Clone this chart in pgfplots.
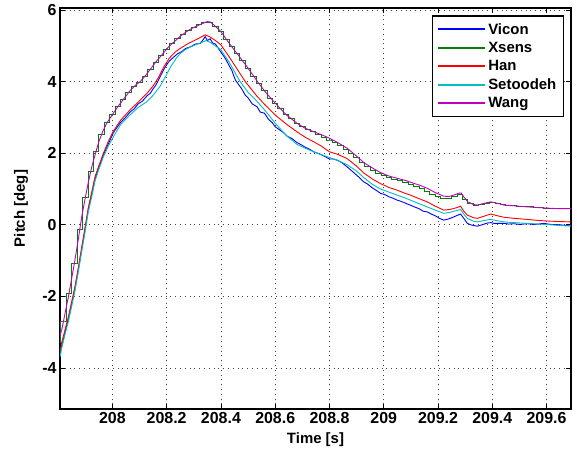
\documentclass[border=0pt]{standalone}
\usepackage{fontspec}
\setmainfont{Liberation Sans}
\usepackage{pgfplots}
\pgfplotsset{compat=1.18}
\definecolor{vicon}{rgb}{0,0,1}
\definecolor{xsens}{rgb}{0,0.5,0}
\definecolor{han}{rgb}{1,0,0}
\definecolor{seto}{rgb}{0,0.75,0.75}
\definecolor{wang}{rgb}{0.75,0,0.75}
\begin{document}
\begin{tikzpicture}
\useasboundingbox (-60bp,-45bp) rectangle (517bp,409bp);
\begin{axis}[
  at={(0,0)}, anchor=south west,
  width=511bp, height=401bp, scale only axis,
  xmin=207.807, xmax=209.69, ymin=-5.15, ymax=6.06,
  xtick={208,208.2,208.4,208.6,208.8,209,209.2,209.4,209.6},
  xticklabels={208,208.2,208.4,208.6,208.8,209,209.2,209.4,209.6},
  ytick={-4,-2,0,2,4,6},
  yticklabels={-4,-2,0,2,4,6},
  scaled x ticks=false, scaled y ticks=false,
  tick align=inside,
  major tick length=5bp,
  tick style={black, line width=0.6bp},
  axis line style={black, line width=1.3bp},
  grid=major,
  major grid style={black!75, dash pattern=on 0.8bp off 4bp, line width=0.6bp},
  tick label style={font=\fontsize{16}{18}\selectfont\bfseries},
  label style={font=\fontsize{15}{17}\selectfont\bfseries},
  xlabel={Time [s]}, ylabel={Pitch [deg]},
  xlabel style={at={(axis description cs:0.5,-0.077)}, anchor=center},
  ylabel style={at={(axis description cs:-0.076,0.5)}, anchor=center, rotate=0},
  legend style={at={(axis description cs:0.9865,0.9825)}, anchor=north east,
    draw=black, line width=1.5bp, fill=white,
    font=\fontsize{15}{17}\selectfont\bfseries,
    row sep=3.5bp, inner xsep=5bp, inner ysep=6bp,
    nodes={inner xsep=2bp, inner ysep=1.5bp}},
  legend cell align=left,
  legend image code/.code={\draw[#1, line width=2bp] (0bp,0bp) -- (47bp,0bp);},
]
% Vicon
\addplot[vicon, line width=0.9bp] coordinates {
(207.807,-3.65) (207.813,-3.40) (207.838,-2.62) (207.862,-1.80) (207.887,-0.68)
(207.911,0.42) (207.936,1.28) (207.967,1.95) (208.004,2.58) (208.015,2.70)
(208.030,2.86) (208.045,2.97) (208.065,3.15) (208.080,3.24) (208.095,3.38)
(208.110,3.45) (208.127,3.60) (208.140,3.68) (208.150,3.80) (208.160,3.90)
(208.170,4.05) (208.180,4.20) (208.190,4.35) (208.200,4.47) (208.210,4.58)
(208.225,4.68) (208.240,4.78) (208.255,4.84) (208.270,4.93) (208.290,4.98)
(208.305,5.05) (208.324,5.07) (208.335,5.18) (208.342,5.26) (208.350,5.15)
(208.360,5.20) (208.370,5.08) (208.380,5.05) (208.395,4.88) (208.410,4.72)
(208.420,4.60) (208.430,4.45) (208.440,4.32) (208.453,4.05) (208.465,3.92)
(208.475,3.82) (208.490,3.62) (208.500,3.55) (208.515,3.38) (208.533,3.30)
(208.545,3.15) (208.560,3.12) (208.575,2.95) (208.590,2.85) (208.600,2.74)
(208.615,2.66) (208.630,2.58) (208.645,2.47) (208.660,2.42) (208.680,2.30)
(208.695,2.24) (208.710,2.17) (208.725,2.12) (208.742,2.04) (208.756,2.00)
(208.770,1.96) (208.785,1.90) (208.800,1.84) (208.815,1.84) (208.830,1.80)
(208.845,1.74) (208.865,1.62) (208.880,1.52) (208.895,1.42) (208.910,1.32)
(208.926,1.20) (208.940,1.14) (208.960,1.02) (208.975,0.95) (208.988,0.88)
(209.005,0.84) (209.020,0.78) (209.035,0.74) (209.049,0.69) (209.062,0.66)
(209.075,0.62) (209.087,0.58) (209.098,0.55) (209.113,0.50) (209.130,0.45)
(209.145,0.38) (209.160,0.36) (209.175,0.30) (209.190,0.25) (209.205,0.18)
(209.221,0.13) (209.233,0.15) (209.245,0.18) (209.258,0.22) (209.270,0.26)
(209.283,0.30) (209.295,0.18) (209.308,0.04) (209.320,0.00) (209.330,-0.02)
(209.345,-0.04) (209.358,-0.01) (209.370,0.02) (209.382,0.05) (209.394,0.06)
(209.407,0.04) (209.420,0.04) (209.443,0.04) (209.460,0.02) (209.480,0.03)
(209.500,0.01) (209.529,0.03) (209.550,0.01) (209.570,0.02) (209.590,0.04)
(209.615,0.01) (209.650,0.00) (209.670,-0.02) (209.690,0.00)
};
\addlegendentry{Vicon}
% Xsens (zero-order hold)
\addplot[xsens, line width=0.9bp, const plot mark mid] coordinates {
(207.80,-3.30) (207.82,-2.69) (207.84,-1.93) (207.86,-1.07) (207.88,-0.12)
(207.90,0.75) (207.92,1.48) (207.94,2.05) (207.96,2.52) (207.98,2.85)
(208.00,3.08) (208.02,3.30) (208.04,3.50) (208.06,3.70) (208.08,3.86)
(208.10,3.99) (208.12,4.15) (208.14,4.35) (208.16,4.55) (208.18,4.73)
(208.20,4.91) (208.22,5.07) (208.24,5.20) (208.26,5.33) (208.28,5.43)
(208.30,5.52) (208.32,5.59) (208.34,5.65) (208.36,5.67) (208.38,5.55)
(208.40,5.40) (208.42,5.19) (208.44,4.98) (208.46,4.78) (208.48,4.58)
(208.50,4.38) (208.52,4.16) (208.54,3.95) (208.56,3.75) (208.58,3.54)
(208.60,3.40) (208.62,3.24) (208.64,3.08) (208.66,2.96) (208.68,2.84)
(208.70,2.75) (208.72,2.67) (208.74,2.61) (208.76,2.52) (208.78,2.45)
(208.80,2.37) (208.82,2.29) (208.84,2.21) (208.86,2.11) (208.88,2.00)
(208.90,1.87) (208.92,1.73) (208.94,1.62) (208.96,1.53) (208.98,1.44)
(209.00,1.38) (209.02,1.31) (209.04,1.27) (209.06,1.23) (209.08,1.19)
(209.10,1.13) (209.12,1.06) (209.14,1.01) (209.16,0.94) (209.18,0.86)
(209.20,0.79) (209.22,0.73) (209.24,0.74) (209.26,0.80) (209.28,0.86)
(209.30,0.72) (209.32,0.59) (209.34,0.55) (209.36,0.57) (209.38,0.61)
(209.40,0.62) (209.42,0.59) (209.44,0.56) (209.46,0.54) (209.48,0.53)
(209.50,0.52) (209.52,0.51) (209.54,0.50) (209.56,0.49) (209.58,0.48)
(209.60,0.47) (209.62,0.46) (209.64,0.46) (209.66,0.45) (209.68,0.45)
(209.70,0.45)
};
\addlegendentry{Xsens}
% Han
\addplot[han, line width=0.9bp] coordinates {
(207.807,-3.55) (207.813,-3.30) (207.825,-2.95) (207.838,-2.57) (207.850,-2.15)
(207.862,-1.73) (207.875,-1.18) (207.887,-0.62) (207.900,-0.05) (207.911,0.47)
(207.925,0.95) (207.936,1.34) (207.950,1.65) (207.967,2.00) (207.985,2.33)
(208.004,2.62) (208.030,2.92) (208.065,3.21) (208.095,3.43) (208.127,3.67)
(208.150,3.88) (208.170,4.12) (208.190,4.42) (208.210,4.66) (208.230,4.82)
(208.250,4.93) (208.280,5.07) (208.310,5.18) (208.330,5.26) (208.342,5.31)
(208.360,5.25) (208.380,5.15) (208.400,5.03) (208.430,4.70) (208.460,4.35)
(208.490,4.00) (208.530,3.62) (208.560,3.37) (208.600,3.07) (208.640,2.82)
(208.680,2.60) (208.710,2.45) (208.742,2.32) (208.770,2.20) (208.800,2.04)
(208.830,1.97) (208.865,1.85) (208.900,1.64) (208.926,1.45) (208.960,1.27)
(208.988,1.15) (209.020,1.04) (209.049,0.97) (209.075,0.89) (209.098,0.83)
(209.130,0.73) (209.160,0.64) (209.190,0.52) (209.221,0.41) (209.245,0.43)
(209.270,0.48) (209.283,0.52) (209.295,0.38) (209.308,0.27) (209.330,0.20)
(209.345,0.18) (209.370,0.24) (209.394,0.30) (209.420,0.25) (209.443,0.21)
(209.480,0.18) (209.529,0.15) (209.570,0.12) (209.615,0.10) (209.650,0.09)
(209.690,0.08)
};
\addlegendentry{Han}
% Setoodeh
\addplot[seto, line width=0.9bp] coordinates {
(207.807,-3.70) (207.813,-3.45) (207.825,-3.08) (207.838,-2.70) (207.850,-2.28)
(207.862,-1.85) (207.875,-1.30) (207.887,-0.75) (207.900,-0.18) (207.911,0.35)
(207.925,0.82) (207.936,1.22) (207.950,1.55) (207.967,1.90) (207.985,2.20)
(208.004,2.46) (208.030,2.80) (208.065,3.07) (208.095,3.28) (208.127,3.44)
(208.150,3.62) (208.175,3.86) (208.200,4.20) (208.215,4.42) (208.235,4.65)
(208.250,4.79) (208.270,4.90) (208.290,4.98) (208.310,5.04) (208.330,5.10)
(208.345,5.15) (208.360,5.10) (208.380,5.00) (208.400,4.89) (208.430,4.55)
(208.450,4.28) (208.471,4.00) (208.500,3.70) (208.533,3.45) (208.560,3.22)
(208.600,2.84) (208.640,2.50) (208.680,2.25) (208.710,2.14) (208.742,2.04)
(208.770,1.96) (208.800,1.88) (208.830,1.80) (208.865,1.68) (208.900,1.50)
(208.926,1.32) (208.960,1.12) (208.988,1.00) (209.020,0.91) (209.049,0.83)
(209.075,0.76) (209.098,0.69) (209.130,0.59) (209.160,0.50) (209.190,0.41)
(209.221,0.32) (209.245,0.35) (209.270,0.40) (209.283,0.43) (209.295,0.30)
(209.308,0.18) (209.330,0.10) (209.345,0.08) (209.370,0.12) (209.394,0.15)
(209.420,0.11) (209.443,0.08) (209.480,0.06) (209.529,0.04) (209.570,0.02)
(209.615,0.00) (209.650,-0.02) (209.690,-0.04)
};
\addlegendentry{Setoodeh}
% Wang
\addplot[wang, line width=0.9bp] coordinates {
(207.807,-3.10) (207.813,-2.95) (207.825,-2.50) (207.838,-2.01) (207.850,-1.50)
(207.862,-0.99) (207.875,-0.38) (207.887,0.22) (207.900,0.75) (207.911,1.17)
(207.925,1.65) (207.938,2.00) (207.950,2.32) (207.965,2.62) (207.980,2.85)
(208.000,3.08) (208.020,3.30) (208.040,3.50) (208.065,3.75) (208.085,3.90)
(208.102,4.00) (208.120,4.15) (208.140,4.35) (208.160,4.55) (208.188,4.80)
(208.210,5.00) (208.230,5.13) (208.250,5.27) (208.270,5.38) (208.290,5.48)
(208.310,5.55) (208.330,5.62) (208.350,5.68) (208.360,5.67) (208.375,5.58)
(208.400,5.40) (208.430,5.08) (208.460,4.78) (208.496,4.42) (208.535,4.00)
(208.565,3.70) (208.600,3.40) (208.640,3.08) (208.680,2.84) (208.710,2.70)
(208.742,2.60) (208.770,2.52) (208.800,2.42) (208.830,2.30) (208.865,2.14)
(208.900,1.92) (208.926,1.74) (208.960,1.58) (208.988,1.46) (209.020,1.36)
(209.049,1.30) (209.080,1.24) (209.110,1.16) (209.135,1.10) (209.160,1.02)
(209.190,0.90) (209.221,0.80) (209.240,0.79) (209.258,0.83) (209.275,0.88)
(209.285,0.89) (209.295,0.78) (209.310,0.64) (209.330,0.57) (209.345,0.55)
(209.370,0.60) (209.394,0.64) (209.420,0.60) (209.443,0.55) (209.480,0.53)
(209.529,0.50) (209.570,0.48) (209.615,0.46) (209.650,0.45) (209.690,0.45)
};
\addlegendentry{Wang}
\end{axis}
\end{tikzpicture}
\end{document}
